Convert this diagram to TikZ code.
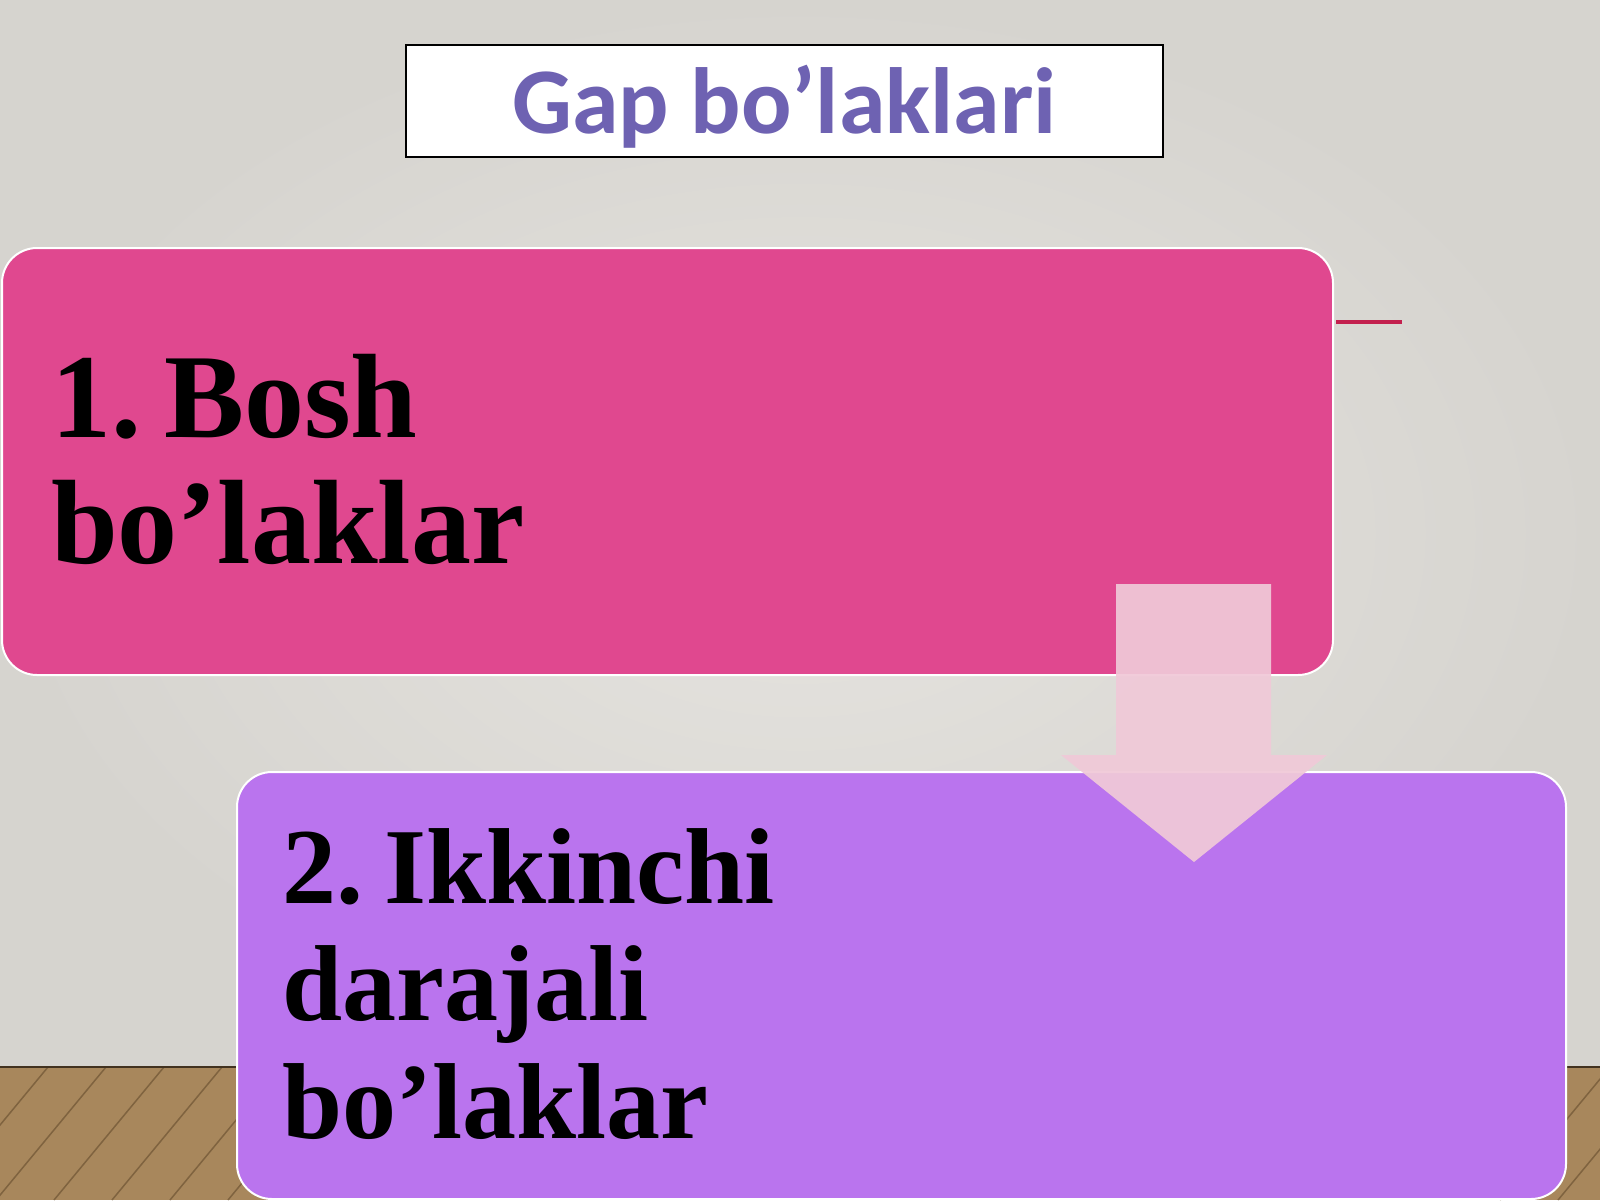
\documentclass[tikz,border=0pt]{standalone}
\usepackage{fontspec}
\setmainfont{Liberation Serif}
\newfontfamily\titlefont{Carlito}
\definecolor{bgin}{HTML}{E6E4E0}
\definecolor{bgout}{HTML}{D6D4CF}
\definecolor{floorc}{HTML}{A8875C}
\definecolor{floordark}{HTML}{6E5434}
\definecolor{pinkc}{HTML}{E0488F}
\definecolor{purplec}{HTML}{BA74EE}
\definecolor{arrowc}{HTML}{F0C9D8}
\definecolor{titlec}{HTML}{6E62B2}
\definecolor{redline}{HTML}{C3204E}
\tikzset{
  box/.style={draw=white, line width=2pt, rounded corners=35pt, inner sep=0pt},
  bigtext/.style={font=\bfseries\fontsize{120}{126}\selectfont, anchor=base west, inner sep=0pt, text=black},
  midtext/.style={font=\bfseries\fontsize{108}{118}\selectfont, anchor=base west, inner sep=0pt, text=black},
  plank/.style={draw=floordark, line width=1.5pt, opacity=0.7},
}
\begin{document}
\begin{tikzpicture}[x=1pt,y=-1pt]
\useasboundingbox (0,0) rectangle (1600,1200);
% background wall
\shade[inner color=bgin, outer color=bgout] (0,0) rectangle (1600,1067);
% floor
\fill[floorc] (0,1067) rectangle (1600,1200);
\begin{scope}
  \clip (0,1067) rectangle (1600,1200);
  \foreach \i in {-120,-62,-4,54,112,170,228,1500,1558,1616} {
    \draw[plank] (\i,1200) -- ++(110,-133);
  }
\end{scope}
\draw[floordark!60!black, line width=2pt] (0,1067) -- (1600,1067);
% title box
\node[draw=black, line width=1.6pt, fill=white, minimum width=757pt, minimum height=112pt, inner sep=0pt] (title) at (784.5,101) {};
\node[font=\titlefont\bfseries\fontsize{94}{100}\selectfont, text=titlec, anchor=base, inner sep=0pt] (titletext) at (784.5,133) {Gap bo’laklari};
% pink box
\node[box, fill=pinkc, minimum width=1331pt, minimum height=427pt] (box1) at (667.5,461.5) {};
\node[bigtext] (t1a) at (51,437) {1.\hspace{0.19em}Bosh};
\node[bigtext] (t1b) at (51,563) {bo’laklar};
% red line
\coordinate (redend) at (1402,322);
\draw[redline, line width=4pt] (box1.east |- redend) ++(2,0) -- (redend);
% purple box
\node[box, fill=purplec, minimum width=1329pt, minimum height=427pt] (box2) at (901.5,985.5) {};
\node[midtext] (t2a) at (282,903) {2.\hspace{0.2em}Ikkinchi};
\node[midtext] (t2b) at (282,1020) {darajali};
\node[midtext] (t2c) at (282,1138) {bo’laklar};
% arrow
\fill[arrowc, opacity=0.93] (1116,584) -- (1271,584) -- (1271,755) -- (1327,755) -- (1194,862) -- (1061,755) -- (1116,755) -- cycle;
\end{tikzpicture}
\end{document}
